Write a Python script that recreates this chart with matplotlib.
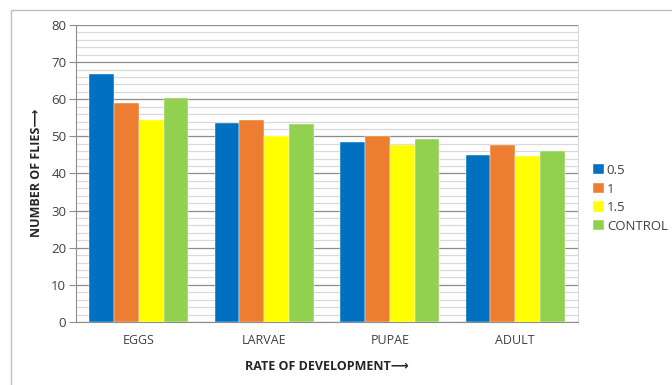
import numpy as np
from matplotlib import pyplot as plt
from matplotlib.patches import Rectangle
from matplotlib.ticker import MultipleLocator

plt.rcParams["font.family"] = ["Open Sans", "DejaVu Sans"]

stages = ["EGGS", "LARVAE", "PUPAE", "ADULT"]
series_names = ["0.5", "1", "1.5", "CONTROL"]
dose_05 = [66.7, 53.7, 48.6, 44.9]
dose_1 = [58.9, 54.3, 50.1, 47.7]
dose_15 = [54.4, 50.0, 47.8, 44.6]
control = [60.4, 53.2, 49.2, 46.1]
colors = ["#0070c0", "#ed7d31", "#ffff00", "#92d050"]

fig = plt.figure(figsize=(6.72, 3.85), dpi=100)
ax = fig.add_axes([76 / 672, 63 / 385, 502 / 672, 297 / 385])

# outer chart border
fig.patches.append(
    Rectangle((11 / 672, -0.1), 1.0, 1.1 - 10 / 385, transform=fig.transFigure,
              fill=False, edgecolor="#bfbfbf", linewidth=1.0)
)

x = np.arange(len(stages))
width = 0.1975
all_values = [dose_05, dose_1, dose_15, control]
for i, (vals, name) in enumerate(zip(all_values, series_names)):
    ax.bar(x + (i - 1.5) * width, vals, width, color=colors[i], label=name,
           edgecolor="white", linewidth=0.3, zorder=3)

ax.set_xlim(-0.5, len(stages) - 0.5)
ax.set_ylim(0, 80)
ax.yaxis.set_major_locator(MultipleLocator(10))
ax.yaxis.set_minor_locator(MultipleLocator(2))
ax.grid(which="major", axis="y", color="#8c8c8c", linewidth=0.9, zorder=1)
ax.grid(which="minor", axis="y", color="#d9d9d9", linewidth=0.9, zorder=0)

ax.set_xticks(x)
ax.set_xticklabels(stages)
ax.tick_params(axis="x", length=0, pad=9, labelsize=9, labelcolor="#404040")
ax.tick_params(axis="y", which="major", length=5, color="#8c8c8c",
               labelsize=9.5, labelcolor="#404040", pad=2)
ax.tick_params(axis="y", which="minor", length=0)

ax.spines["top"].set_visible(False)
ax.spines["right"].set_color("#d9d9d9")
ax.spines["left"].set_color("#8c8c8c")
ax.spines["bottom"].set_color("#8c8c8c")

fig.text(327 / 672, 1 - 367 / 385, "RATE OF DEVELOPMENT⟶", ha="center",
         va="center", fontsize=9, fontweight="bold", color="#262626")
fig.text(36 / 672, 1 - 173 / 385, "NUMBER OF FLIES⟶", ha="center",
         va="center", rotation=90, fontsize=9, fontweight="bold",
         color="#262626")

ax.legend(loc="upper left", bbox_to_anchor=(593 / 672, 1 - 164 / 385),
          bbox_transform=fig.transFigure, frameon=False, fontsize=9.5,
          handlelength=0.8, handleheight=0.8, handletextpad=0.25,
          labelspacing=0.42, borderaxespad=0, borderpad=0,
          labelcolor="#404040")

fig.savefig("out.png", dpi=100)
